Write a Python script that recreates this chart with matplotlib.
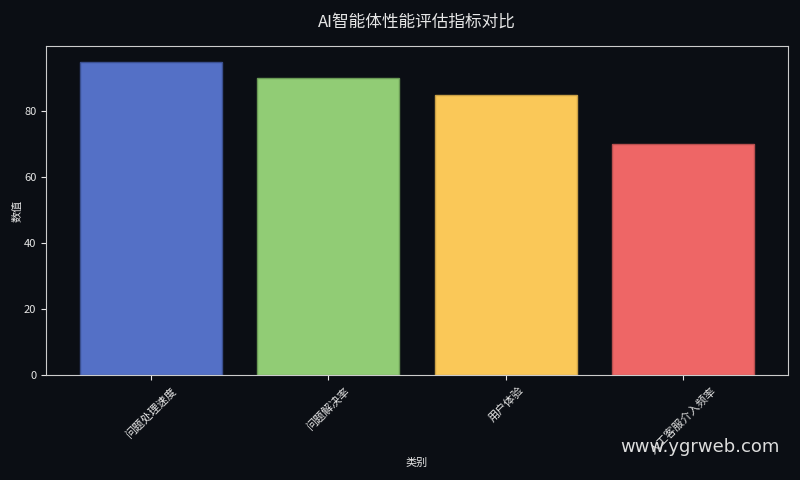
import matplotlib.pyplot as plt

plt.rcParams['font.family'] = ['Noto Sans CJK SC', 'DejaVu Sans']

categories = ['问题处理速度', '问题解决率', '用户体验', '人工客服介入频率']
values = [95, 90, 85, 70]
colors = ['#5470c6', '#91cc75', '#fac858', '#ee6666']
edges = ['#3a4f8f', '#6a9a55', '#c99f45', '#b84f4f']

bg = '#0b0e14'
fg = '#e6e6e6'

fig, ax = plt.subplots(figsize=(8, 4.8), dpi=100)
fig.patch.set_facecolor(bg)
ax.set_facecolor(bg)

ax.bar(categories, values, color=colors, edgecolor=edges, linewidth=1, width=0.8)
ax.set_ylim(0, max(values) * 1.05)

ax.set_title('AI智能体性能评估指标对比', color=fg, fontsize=12, pad=14)
ax.set_xlabel('类别', color=fg, fontsize=8, labelpad=2)
ax.set_ylabel('数值', color=fg, fontsize=8, labelpad=1)
ax.tick_params(colors=fg, labelsize=8)
plt.setp(ax.get_xticklabels(), rotation=45)
for s in ax.spines.values():
    s.set_color('#cccccc')

fig.subplots_adjust(left=0.0575, right=0.985, top=0.904, bottom=0.219)
fig.text(0.975, 0.05, 'www.ygrweb.com', color='#dddddd', fontsize=13,
         ha='right', va='bottom', family=['DejaVu Sans'])

fig.savefig('out.png', facecolor=bg)
